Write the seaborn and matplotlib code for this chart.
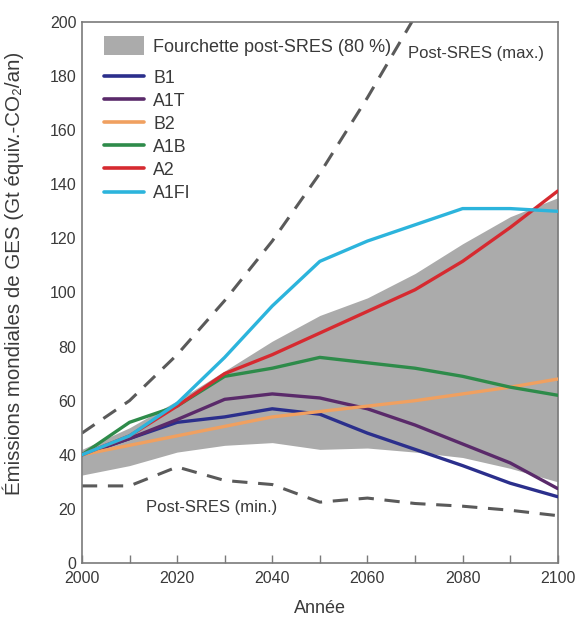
import numpy as np
import pandas as pd
import seaborn as sns
import matplotlib.pyplot as plt
from matplotlib.lines import Line2D
from matplotlib.patches import Patch, Rectangle
from matplotlib.legend_handler import HandlerPatch

# Years of the scenario grid
years = [2000, 2010, 2020, 2030, 2040, 2050, 2060, 2070, 2080, 2090, 2100]

# SRES marker scenarios (Gt CO2-eq / yr)
b1 = [40, 46, 52, 54, 57, 55, 48, 42, 36, 29.5, 24.5]
a1t = [40, 46, 53, 60.5, 62.5, 61, 57, 51, 44, 37, 27.5]
b2 = [40, 43.5, 47, 50.5, 54, 56, 58, 60, 62.5, 65, 68]
a1b = [40, 52, 58, 69, 72, 76, 74, 72, 69, 65, 62]
a2 = [40, 47, 58, 70, 77, 85, 93, 101, 111.5, 124, 137.5]
a1fi = [40, 47, 59, 76, 95, 111.5, 119, 125, 131, 131, 130]

# Post-SRES 80 % range
band_low = [32.5, 36, 41, 43.5, 44.5, 42, 42.5, 41, 39, 35, 30]
band_high = [42, 50, 60, 71, 82, 91.5, 98, 107, 118, 128, 135]

# Post-SRES extremes
post_max = [48, 60, 77, 97, 119, 144, 172, 202]
post_max_years = [2000, 2010, 2020, 2030, 2040, 2050, 2060, 2070]
post_min = [28.5, 28.5, 35.5, 30.5, 29, 22.5, 24, 22, 21, 19.5, 17.5]

scenarios = ["B1", "A1T", "B2", "A1B", "A2", "A1FI"]
colors = ["#2b2f8c", "#5a2a6a", "#f0a060", "#2e8b4a", "#d62a30", "#2cb4dc"]
series = [b1, a1t, b2, a1b, a2, a1fi]

df = pd.DataFrame({
    "Année": years * len(scenarios),
    "Émissions": [v for s in series for v in s],
    "Scénario": [n for n in scenarios for _ in years],
})

sns.set_theme(style="white")
plt.rcParams["font.family"] = ["Liberation Sans", "DejaVu Sans"]
text_col = "#3a3a3a"
frame_col = "#7a7a7a"

fig = plt.figure(figsize=(5.81, 6.17), dpi=100)
ax = fig.add_axes([0.141, 0.0875, 0.819, 0.877])

band_col = "#ababab"
ax.fill_between(years, band_low, band_high, color=band_col, linewidth=0, zorder=1)

ax.plot(post_max_years, post_max, color="#5a5a5a", lw=2.2, dashes=(5, 3.5), zorder=2)
ax.plot(years, post_min, color="#5a5a5a", lw=2.2, dashes=(5, 3.5), zorder=2)

sns.lineplot(data=df, x="Année", y="Émissions", hue="Scénario",
             hue_order=scenarios, palette=colors, linewidth=2.4,
             legend=False, ax=ax, zorder=3)

ax.set_xlim(2000, 2100)
ax.set_ylim(0, 200)
ax.set_xticks(range(2000, 2101, 20))
ax.set_xticks(range(2010, 2100, 20), minor=True)
ax.set_yticks(range(0, 201, 20))
ax.tick_params(axis="both", which="both", direction="in", length=6, width=1,
               color=frame_col, labelsize=11.5, labelcolor=text_col, pad=4)
ax.tick_params(axis="x", which="both", top=False, bottom=True, pad=5.5)
for sp in ax.spines.values():
    sp.set_color(frame_col)
    sp.set_linewidth(1.2)
    sp.set_visible(True)

ax.set_xlabel("Année", fontsize=13, color=text_col, labelpad=10)
ax.set_ylabel("Émissions mondiales de GES (Gt équiv.-CO₂/an)", fontsize=14.8,
              color=text_col)
ax.yaxis.set_label_coords(-0.122, 0.535)

ax.text(2068.5, 188.5, "Post-SRES (max.)", fontsize=12, color=text_col,
        ha="left", va="center")
ax.text(2013.5, 20.5, "Post-SRES (min.)", fontsize=12, color=text_col,
        ha="left", va="center")


def tall_patch(legend, orig_handle, xdescent, ydescent, width, height, fontsize):
    return Rectangle((-xdescent, -ydescent - 0.25 * height), width, height * 1.5)


leg1 = ax.legend(handles=[Patch(facecolor=band_col, edgecolor="none")],
                 labels=["Fourchette post-SRES (80 %)"],
                 loc="upper left", bbox_to_anchor=(0.046, 0.968),
                 frameon=False, fontsize=13, handlelength=2.2,
                 handletextpad=0.5, borderpad=0, borderaxespad=0,
                 handler_map={Patch: HandlerPatch(patch_func=tall_patch)})
for t in leg1.get_texts():
    t.set_color(text_col)
ax.add_artist(leg1)

line_handles = [Line2D([0], [0], color=c, lw=2.6) for c in colors]
leg2 = ax.legend(handles=line_handles, labels=scenarios, loc="upper left",
                 bbox_to_anchor=(0.046, 0.912), frameon=False, fontsize=12.8,
                 handlelength=2.25, handletextpad=0.52, labelspacing=0.34,
                 borderpad=0, borderaxespad=0)
for t in leg2.get_texts():
    t.set_color(text_col)

fig.savefig("out.png", dpi=100)
